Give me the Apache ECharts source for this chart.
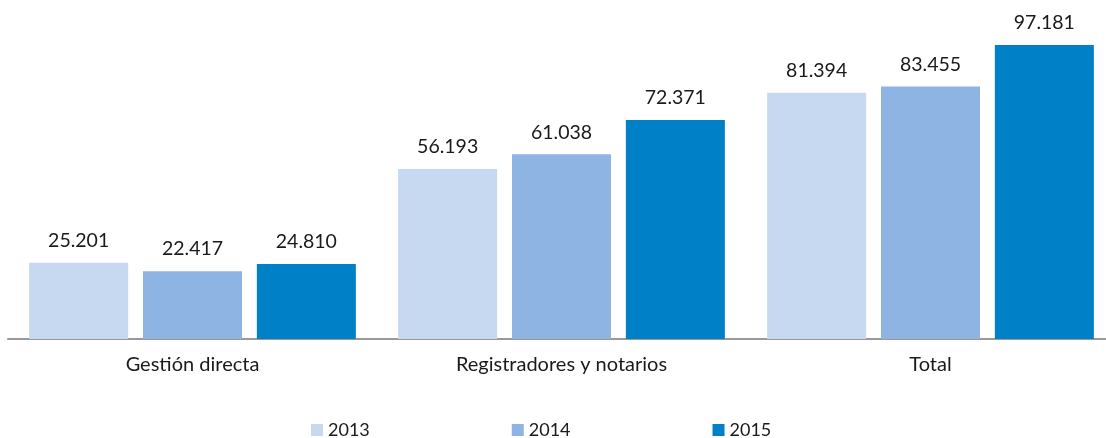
<!DOCTYPE html>
<html>
<head>
<meta charset="utf-8">
<script src="https://cdn.jsdelivr.net/npm/echarts@6/dist/echarts.min.js"></script>
<style>
    html, body { margin: 0; padding: 0; background: #fff; }
    #chart { width: 1106px; height: 438px; }
</style>
</head>
<body>
<div id="chart"></div>
<script>
    var categories = ['Gestión directa', 'Registradores y notarios', 'Total'];
    var years = ['2013', '2014', '2015'];
    var values2013 = [25201, 56193, 81394];
    var values2014 = [22417, 61038, 83455];
    var values2015 = [24810, 72371, 97181];
    var colors = ['#C6D9F1', '#8EB4E3', '#0080C6'];

    function fmt(v){
        return String(v).replace(/\B(?=(\d{3})+(?!\d))/g, '.');
    }

    function makeSeries(name, data, color){
        return {
            name: name,
            type: 'bar',
            data: data,
            barWidth: 99,
            barGap: '15%',
            itemStyle: { color: color },
            label: {
                show: true,
                position: 'top',
                distance: 12,
                color: '#1a1a1a',
                fontFamily: 'Lato',
                fontSize: 19.5,
                formatter: function(p){ return fmt(p.value); }
            }
        };
    }

    var myChart = echarts.init(document.getElementById('chart'));
    var option = {
        animation: false,
        grid: { left: 8, width: 1107, top: 36.5, bottom: 99, outerBoundsMode: 'none', containLabel: false },
        legend: {
            left: 306,
            top: 416,
            itemWidth: 12,
            itemHeight: 12,
            itemGap: 142,
            icon: 'rect',
            textStyle: { fontFamily: 'Lato', fontSize: 18, color: '#1a1a1a' },
            data: years
        },
        xAxis: {
            type: 'category',
            data: categories,
            axisLine: { lineStyle: { color: '#999', width: 2 } },
            axisTick: { show: false },
            axisLabel: { margin: 16, color: '#1a1a1a', fontFamily: 'Lato', fontSize: 20 }
        },
        yAxis: {
            type: 'value',
            min: 0,
            max: 100000,
            show: false,
            splitLine: { show: false }
        },
        series: [
            makeSeries(years[0], values2013, colors[0]),
            makeSeries(years[1], values2014, colors[1]),
            makeSeries(years[2], values2015, colors[2])
        ]
    };
    myChart.setOption(option);
</script>
</body>
</html>
